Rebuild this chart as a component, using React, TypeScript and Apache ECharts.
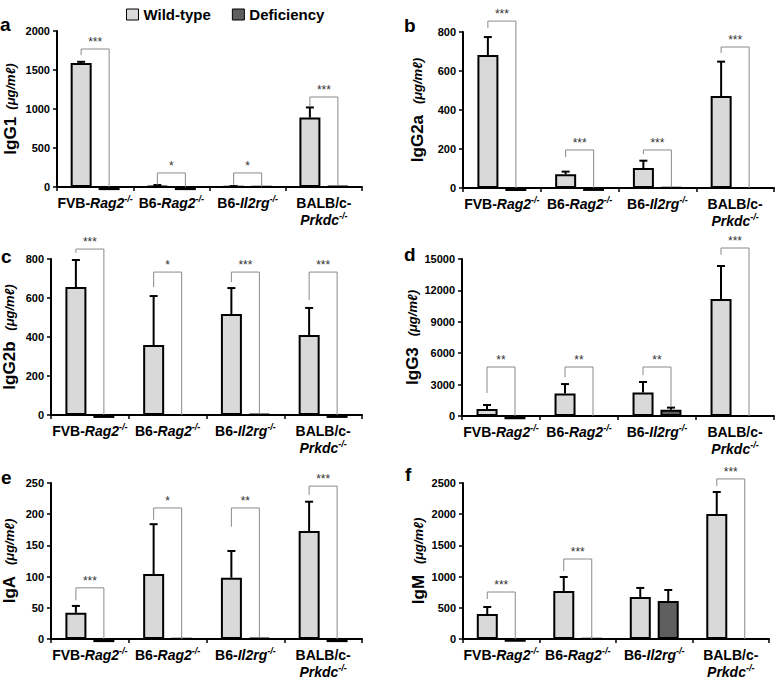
import React, { useEffect, useRef } from "react";
import * as echarts from "echarts";

const FONT = "'Liberation Sans', Arial, Helvetica, sans-serif";

const categories = ["FVB-Rag2-/-", "B6-Rag2-/-", "B6-Il2rg-/-", "BALB/c-Prkdc-/-"];
const catPrefix = ["FVB-", "B6-", "B6-", "BALB/c-"];
const catGene = ["Rag2", "Rag2", "Il2rg", "Prkdc"];
const seriesNames = ["Wild-type", "Deficiency"];
const panelLetters = ["a", "b", "c", "d", "e", "f"];
const panelIsotypes = ["IgG1", "IgG2a", "IgG2b", "IgG3", "IgA", "IgM"];
const yMax = [2000, 800, 800, 15000, 250, 2500];
const yInterval = [500, 200, 200, 3000, 50, 500];

// a: IgG1
const igg1WT = [1590, 15, 8, 890];
const igg1WTErr = [15, 10, 3, 130];
const igg1Def = [-40, -40, 5, 10];
const igg1DefErr = [0, 0, 0, 0];
const igg1Sig = ["***", "*", "*", "***"];
const igg1BracketLeft = [1690, 28, 25, 1038];
const igg1BracketTop = [1769, 180, 180, 1154];
const igg1BracketRight = [0, 0, 5, 15];

// b: IgG2a
const igg2aWT = [682, 70, 102, 472];
const igg2aWTErr = [92, 14, 38, 176];
const igg2aDef = [-15, -15, 3, 0];
const igg2aDefErr = [0, 0, 0, 0];
const igg2aSig = ["***", "***", "***", "***"];
const igg2aBracketLeft = [820, 159, 174, 692];
const igg2aBracketTop = [856, 195, 195, 723];
const igg2aBracketRight = [0, 0, 3, 0];

// c: IgG2b
const igg2bWT = [656, 359, 518, 410];
const igg2bWTErr = [139, 251, 133, 139];
const igg2bDef = [-15, 0, 5, -15];
const igg2bDefErr = [0, 0, 0, 0];
const igg2bSig = ["***", "*", "***", "***"];
const igg2bBracketLeft = [831, 656, 682, 590];
const igg2bBracketTop = [851, 733, 733, 733];
const igg2bBracketRight = [0, 0, 5, 0];

// d: IgG3
const igg3WT = [670, 2150, 2250, 11170];
const igg3WTErr = [380, 900, 1000, 3160];
const igg3Def = [-300, 0, 600, 0];
const igg3DefErr = [0, 0, 200, 0];
const igg3Sig = ["**", "**", "**", "***"];
const igg3BracketLeft = [2200, 3720, 3900, 15400];
const igg3BracketTop = [4680, 4680, 4680, 16050];
const igg3BracketRight = [0, 0, 900, 0];

// e: IgA
const igaWT = [42, 104, 98, 173];
const igaWTErr = [11, 80, 43, 47];
const igaDef = [-5, 0.5, 2, -5];
const igaDefErr = [0, 0, 0, 0];
const igaSig = ["***", "*", "**", "***"];
const igaBracketLeft = [62, 191, 180, 231];
const igaBracketTop = [82, 210, 210, 245];
const igaBracketRight = [0, 0, 2, 0];

// f: IgM
const igmWT = [400, 770, 673, 2004];
const igmWTErr = [113, 224, 145, 352];
const igmDef = [-45, 5, 609, 0];
const igmDefErr = [0, 0, 176, 0];
const igmSig = ["***", "***", "", "***"];
const igmBracketLeft = [641, 1090, 0, 2453];
const igmBracketTop = [753, 1282, 0, 2565];
const igmBracketRight = [0, 0, 0, 0];

const panels = [
  { wt: igg1WT, wtErr: igg1WTErr, def: igg1Def, defErr: igg1DefErr, sig: igg1Sig, bl: igg1BracketLeft, bt: igg1BracketTop, br: igg1BracketRight },
  { wt: igg2aWT, wtErr: igg2aWTErr, def: igg2aDef, defErr: igg2aDefErr, sig: igg2aSig, bl: igg2aBracketLeft, bt: igg2aBracketTop, br: igg2aBracketRight },
  { wt: igg2bWT, wtErr: igg2bWTErr, def: igg2bDef, defErr: igg2bDefErr, sig: igg2bSig, bl: igg2bBracketLeft, bt: igg2bBracketTop, br: igg2bBracketRight },
  { wt: igg3WT, wtErr: igg3WTErr, def: igg3Def, defErr: igg3DefErr, sig: igg3Sig, bl: igg3BracketLeft, bt: igg3BracketTop, br: igg3BracketRight },
  { wt: igaWT, wtErr: igaWTErr, def: igaDef, defErr: igaDefErr, sig: igaSig, bl: igaBracketLeft, bt: igaBracketTop, br: igaBracketRight },
  { wt: igmWT, wtErr: igmWTErr, def: igmDef, defErr: igmDefErr, sig: igmSig, bl: igmBracketLeft, bt: igmBracketTop, br: igmBracketRight },
];

// layout
const gridLayout = [
  { left: 57, top: 31, width: 305, height: 156 },
  { left: 463, top: 32, width: 311, height: 156 },
  { left: 51, top: 259, width: 311, height: 156 },
  { left: 462, top: 259, width: 312, height: 157 },
  { left: 50, top: 483, width: 312, height: 156 },
  { left: 463, top: 483, width: 306, height: 156 },
];
const nameGaps = [38, 37, 33, 36, 33, 36];
const namePads = ["  ", "   ", "   ", "   ", "   ", "   "];
const letterPos = [
  [0, 25], [404, 26], [1, 257], [404, 255], [1, 478], [405, 475],
];

const WT_COLOR = "#d9d9d9";
const DEF_COLOR = "#5f5f5f";
const BAR_W = 21;
const OFF = 14;

function errorRender(offset: number) {
  return (params: any, api: any) => {
    const idx = api.value(0);
    const lo = api.coord([idx, api.value(1)]);
    const hi = api.coord([idx, api.value(2)]);
    const x = lo[0] + offset;
    return {
      type: "group",
      children: [
        { type: "line", shape: { x1: x, y1: lo[1], x2: x, y2: hi[1] }, style: { stroke: "#000", lineWidth: 2 } },
        { type: "line", shape: { x1: x - 4, y1: hi[1], x2: x + 4, y2: hi[1] }, style: { stroke: "#000", lineWidth: 2 } },
      ],
    };
  };
}

function bracketRender(sigs: string[]) {
  return (params: any, api: any) => {
    const idx = api.value(0);
    const pl = api.coord([idx, api.value(1)]);
    const pt = api.coord([idx, api.value(2)]);
    const pr = api.coord([idx, api.value(3)]);
    const xl = pl[0] - OFF;
    const xr = pl[0] + OFF;
    return {
      type: "group",
      children: [
        {
          type: "polyline",
          shape: { points: [[xl, pl[1]], [xl, pt[1]], [xr, pt[1]], [xr, pr[1]]] },
          style: { stroke: "#8a8a8a", lineWidth: 1, fill: null },
        },
        {
          type: "text",
          x: (xl + xr) / 2,
          y: pt[1] - 1,
          style: {
            text: sigs[api.value(4)],
            fill: "#333",
            font: `12px ${FONT}`,
            align: "center",
            verticalAlign: "bottom",
          },
        },
      ],
    };
  };
}

export default function App() {
  const ref = useRef<HTMLDivElement>(null);
  useEffect(() => {
    if (!ref.current) return;
    const chart = echarts.init(ref.current, undefined, { renderer: "svg" });

    const series: any[] = [];
    panels.forEach((p, k) => {
      series.push({
        type: "bar",
        name: seriesNames[0],
        xAxisIndex: k,
        yAxisIndex: k,
        data: p.wt,
        barWidth: BAR_W,
        barGap: "33%",
        clip: false,
        itemStyle: { color: WT_COLOR, borderColor: "#000", borderWidth: 2 },
        z: 2,
      });
      series.push({
        type: "bar",
        name: seriesNames[1],
        xAxisIndex: k,
        yAxisIndex: k,
        data: p.def,
        barWidth: BAR_W,
        barGap: "33%",
        clip: false,
        itemStyle: { color: DEF_COLOR, borderColor: "#000", borderWidth: 2 },
        z: 2,
      });
      const errData: any[] = [];
      p.wt.forEach((v, i) => {
        if (p.wtErr[i] > 0) errData.push([i, v, v + p.wtErr[i]]);
      });
      series.push({
        type: "custom",
        xAxisIndex: k,
        yAxisIndex: k,
        clip: false,
        z: 3,
        data: errData,
        renderItem: errorRender(-OFF),
      });
      const errDef: any[] = [];
      p.def.forEach((v, i) => {
        if (p.defErr[i] > 0) errDef.push([i, v, v + p.defErr[i]]);
      });
      if (errDef.length) {
        series.push({
          type: "custom",
          xAxisIndex: k,
          yAxisIndex: k,
          clip: false,
          z: 3,
          data: errDef,
          renderItem: errorRender(OFF),
        });
      }
      const brData: any[] = [];
      p.sig.forEach((s, i) => {
        if (s) brData.push([i, p.bl[i], p.bt[i], p.br[i], i]);
      });
      series.push({
        type: "custom",
        xAxisIndex: k,
        yAxisIndex: k,
        clip: false,
        z: 4,
        data: brData,
        renderItem: bracketRender(p.sig),
      });
    });

    const option: any = {
      animation: false,
      backgroundColor: "#fff",
      textStyle: { fontFamily: FONT },
      legend: {
        data: seriesNames,
        left: 121,
        top: 2,
        itemWidth: 12,
        itemHeight: 11,
        itemGap: 21,
        icon: "rect",
        selectedMode: false,
        itemStyle: { borderColor: "#000", borderWidth: 1 },
        textStyle: { fontFamily: FONT, fontSize: 15, fontWeight: "bold", color: "#000" },
      },
      grid: gridLayout.map((g) => ({ ...g, containLabel: false })),
      xAxis: panels.map((p, k) => ({
        gridIndex: k,
        type: "category",
        data: categories,
        axisLine: { lineStyle: { color: "#000", width: 2 } },
        axisTick: { show: true, length: 4, interval: 0, lineStyle: { color: "#000", width: 1.5 } },
        splitLine: { show: false },
        axisLabel: {
          interval: 0,
          margin: 7,
          color: "#000",
          formatter: (v: string, i: number) =>
            i === 3
              ? `{b|${catPrefix[i]}}\n{i|${catGene[i]}}{s|-/-}`
              : `{b|${catPrefix[i]}}{i|${catGene[i]}}{s|-/-}`,
          rich: {
            b: { fontFamily: FONT, fontSize: 14, fontWeight: "bold", color: "#000", lineHeight: 17 },
            i: { fontFamily: FONT, fontSize: 14, fontWeight: "bold", fontStyle: "italic", color: "#000", lineHeight: 17 },
            s: { fontFamily: FONT, fontSize: 9, fontWeight: "bold", fontStyle: "italic", color: "#000", verticalAlign: "top" },
          },
        },
      })),
      yAxis: panels.map((p, k) => ({
        gridIndex: k,
        type: "value",
        min: 0,
        max: yMax[k],
        interval: yInterval[k],
        name: `{a|${panelIsotypes[k]}}{b|${namePads[k]}(μg/mℓ)}`,
        nameLocation: "middle",
        nameRotate: 90,
        nameGap: nameGaps[k],
        nameTextStyle: {
          rich: {
            a: { fontFamily: FONT, fontSize: 17, fontWeight: "bold", color: "#000" },
            b: { fontFamily: FONT, fontSize: 13, fontWeight: "bold", fontStyle: "italic", color: "#000" },
          },
        },
        axisLine: { show: true, lineStyle: { color: "#000", width: 2 } },
        axisTick: { show: true, length: 4, lineStyle: { color: "#000", width: 1.5 } },
        splitLine: { show: false },
        axisLabel: {
          fontFamily: FONT,
          fontSize: 11,
          fontWeight: "bold",
          color: "#000",
          margin: 7,
          formatter: (v: number) => String(v),
        },
      })),
      graphic: panelLetters.map((l, k) => ({
        type: "text",
        left: letterPos[k][0],
        top: letterPos[k][1] - 10,
        style: { text: l, font: `bold 19px ${FONT}`, fill: "#000" },
      })),
      series,
    };
    chart.setOption(option);
    return () => chart.dispose();
  }, []);
  return (
    <div
      ref={ref}
      style={{ position: "fixed", left: 0, top: 0, width: 782, height: 688, background: "#fff" }}
    />
  );
}
